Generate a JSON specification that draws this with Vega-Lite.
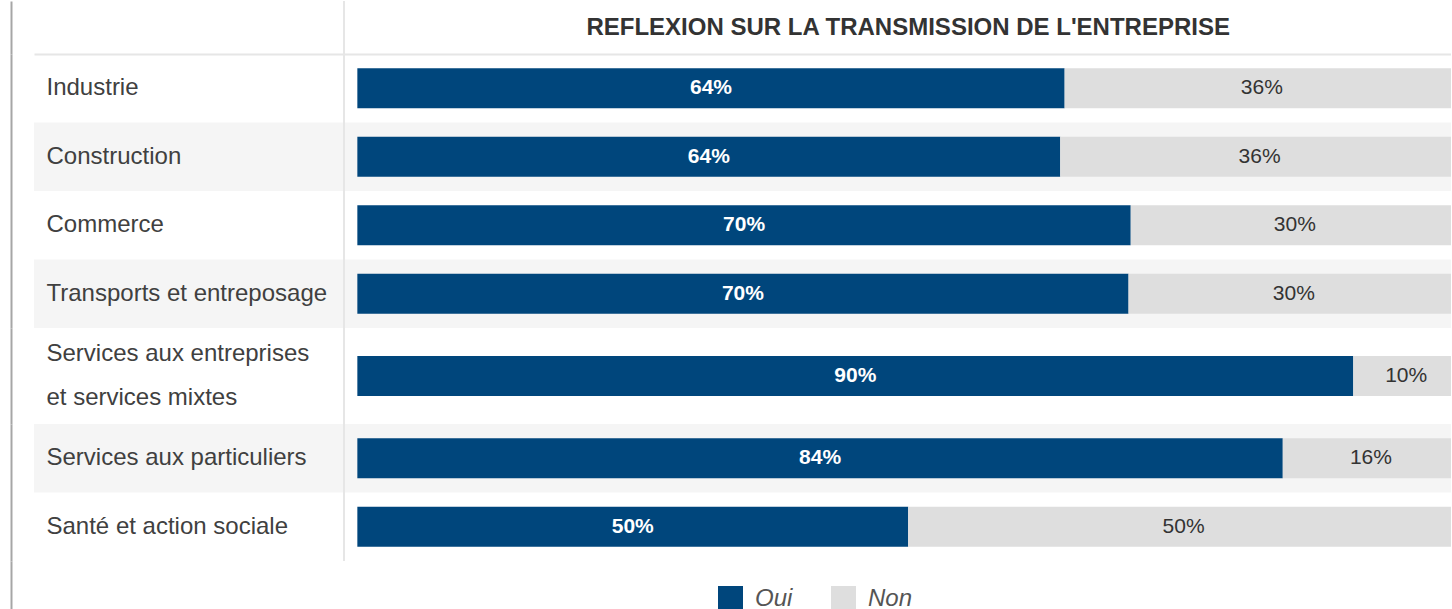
{
  "$schema": "https://vega.github.io/schema/vega-lite/v6.json",
  "background": "white",
  "padding": {"left": 11, "top": 0, "right": 0, "bottom": 0},
  "spacing": 0,
  "bounds": "flush",
  "resolve": {"scale": {"color": "shared"}, "legend": {"color": "shared"}},
  "datasets": {
    "reponses": [
      {"secteur": "Industrie", "reponse": "Oui", "part": 64.2, "etiquette": "64%"},
      {"secteur": "Industrie", "reponse": "Non", "part": 35.8, "etiquette": "36%"},
      {"secteur": "Construction", "reponse": "Oui", "part": 63.8, "etiquette": "64%"},
      {"secteur": "Construction", "reponse": "Non", "part": 36.2, "etiquette": "36%"},
      {"secteur": "Commerce", "reponse": "Oui", "part": 70.2, "etiquette": "70%"},
      {"secteur": "Commerce", "reponse": "Non", "part": 29.8, "etiquette": "30%"},
      {"secteur": "Transports et entreposage", "reponse": "Oui", "part": 70.0, "etiquette": "70%"},
      {"secteur": "Transports et entreposage", "reponse": "Non", "part": 30.0, "etiquette": "30%"},
      {"secteur": "Services aux entreprises et services mixtes", "reponse": "Oui", "part": 90.4, "etiquette": "90%"},
      {"secteur": "Services aux entreprises et services mixtes", "reponse": "Non", "part": 9.6, "etiquette": "10%"},
      {"secteur": "Services aux particuliers", "reponse": "Oui", "part": 84.0, "etiquette": "84%"},
      {"secteur": "Services aux particuliers", "reponse": "Non", "part": 16.0, "etiquette": "16%"},
      {"secteur": "Santé et action sociale", "reponse": "Oui", "part": 50.0, "etiquette": "50%"},
      {"secteur": "Santé et action sociale", "reponse": "Non", "part": 50.0, "etiquette": "50%"}
    ],
    "entete": [{"titre": "REFLEXION SUR LA TRANSMISSION DE L'ENTREPRISE"}],
    "pied": [{"pied": ""}]
  },
  "vconcat": [
    {
      "width": 1417, "height": 53,
      "data": {"name": "entete"},
      "layer": [
        {
          "mark": {"type": "rule", "color": "#e6e6e6", "strokeWidth": 2},
          "encoding": {
            "x": {"datum": -1.21, "type": "quantitative", "scale": {"domain": [-29.35, 99.27], "nice": false, "zero": false},
                  "axis": {"orient": "bottom", "labels": false, "ticks": false, "grid": false, "domain": true, "domainColor": "#e6e6e6", "domainWidth": 2, "title": null}}
          }
        },
        {
          "mark": {"type": "text", "fontSize": 24, "fontWeight": "bold", "color": "#333333", "font": "Liberation Sans, Arial, sans-serif"},
          "encoding": {
            "x": {"datum": 50, "type": "quantitative", "scale": {"domain": [-29.35, 99.27], "nice": false, "zero": false},
                  "axis": {"orient": "bottom", "labels": false, "ticks": false, "grid": false, "domain": true, "domainColor": "#e6e6e6", "domainWidth": 2, "title": null}},
            "y": {"field": "titre", "type": "nominal", "axis": {"labels": false}},
            "text": {"field": "titre"}
          }
        }
      ]
    },
    {
      "width": 1417, "height": 274,
      "data": {"name": "reponses"},
      "layer": [
        {
          "transform": [{"filter": {"field": "secteur", "oneOf": ["Construction", "Transports et entreposage"]}}, {"filter": "datum.reponse == 'Oui'"}],
          "mark": {"type": "bar", "color": "#f5f5f5"},
          "encoding": {
            "y": {"field": "secteur", "type": "nominal", "sort": ["Industrie", "Construction", "Commerce", "Transports et entreposage"], "scale": {"domain": ["Industrie", "Construction", "Commerce", "Transports et entreposage"], "paddingInner": 0, "paddingOuter": 0}, "axis": {"zindex": 1}},
            "x": {"datum": -29.35, "type": "quantitative", "scale": {"domain": [-29.35, 99.27], "nice": false, "zero": false}, "axis": null},
            "x2": {"datum": 99.27}
          }
        },
        {
          "data": {"name": "entete"},
          "mark": {"type": "rule", "color": "#e6e6e6", "strokeWidth": 2},
          "encoding": {"x": {"datum": -1.21, "type": "quantitative", "scale": {"domain": [-29.35, 99.27], "nice": false, "zero": false}, "axis": null}}
        },
        {
          "transform": [{"filter": {"field": "secteur", "oneOf": ["Industrie", "Construction", "Commerce", "Transports et entreposage"]}}],
          "mark": {"type": "bar", "size": 40, "clip": true},
          "encoding": {
            "y": {"field": "secteur", "type": "nominal", "sort": ["Industrie", "Construction", "Commerce", "Transports et entreposage"], "scale": {"domain": ["Industrie", "Construction", "Commerce", "Transports et entreposage"], "paddingInner": 0, "paddingOuter": 0}, "axis": {"zindex": 1}},
            "x": {"field": "part", "type": "quantitative", "stack": "zero", "scale": {"domain": [-29.35, 99.27], "nice": false, "zero": false}, "axis": null},
            "color": {"field": "reponse", "type": "nominal", "scale": {"domain": ["Oui", "Non"], "range": ["#00467c", "#dedede"]},
                      "legend": {"title": null, "orient": "none", "legendX": 684, "legendY": 585, "direction": "horizontal", "symbolType": "square", "symbolSize": 625, "symbolStrokeWidth": 0, "labelFont": "Liberation Sans, Arial, sans-serif", "labelFontSize": 24, "labelFontStyle": "italic", "labelColor": "#555555", "labelOffset": 12, "columnPadding": 38, "padding": 0}},
            "order": {"field": "reponse", "sort": "descending"}
          }
        },
        {
          "transform": [{"filter": {"field": "secteur", "oneOf": ["Industrie", "Construction", "Commerce", "Transports et entreposage"]}}],
          "mark": {"type": "text", "font": "Liberation Sans, Arial, sans-serif", "fontSize": 21, "fontWeight": "bold", "color": "white"},
          "encoding": {
            "y": {"field": "secteur", "type": "nominal", "sort": ["Industrie", "Construction", "Commerce", "Transports et entreposage"], "scale": {"domain": ["Industrie", "Construction", "Commerce", "Transports et entreposage"], "paddingInner": 0, "paddingOuter": 0}, "axis": {"zindex": 1}},
            "x": {"field": "part", "type": "quantitative", "stack": "zero", "bandPosition": 0.5, "scale": {"domain": [-29.35, 99.27], "nice": false, "zero": false}, "axis": null},
            "detail": {"field": "reponse"},
            "order": {"field": "reponse", "sort": "descending"},
            "text": {"field": "etiquette"},
            "opacity": {"condition": {"test": "datum.reponse == 'Oui'", "value": 1}, "value": 0}
          }
        },
        {
          "transform": [{"filter": {"field": "secteur", "oneOf": ["Industrie", "Construction", "Commerce", "Transports et entreposage"]}}],
          "mark": {"type": "text", "font": "Liberation Sans, Arial, sans-serif", "fontSize": 21, "color": "#333333"},
          "encoding": {
            "y": {"field": "secteur", "type": "nominal", "sort": ["Industrie", "Construction", "Commerce", "Transports et entreposage"], "scale": {"domain": ["Industrie", "Construction", "Commerce", "Transports et entreposage"], "paddingInner": 0, "paddingOuter": 0}, "axis": {"zindex": 1}},
            "x": {"field": "part", "type": "quantitative", "stack": "zero", "bandPosition": 0.5, "scale": {"domain": [-29.35, 99.27], "nice": false, "zero": false}, "axis": null},
            "detail": {"field": "reponse"},
            "order": {"field": "reponse", "sort": "descending"},
            "text": {"field": "etiquette"},
            "opacity": {"condition": {"test": "datum.reponse == 'Non'", "value": 1}, "value": 0}
          }
        }
      ]
    },
    {
      "width": 1417, "height": 96,
      "data": {"name": "reponses"},
      "layer": [
        {
          "data": {"name": "entete"},
          "mark": {"type": "rule", "color": "#e6e6e6", "strokeWidth": 2},
          "encoding": {"x": {"datum": -1.21, "type": "quantitative", "scale": {"domain": [-29.35, 99.27], "nice": false, "zero": false}, "axis": null}}
        },
        {
          "transform": [{"filter": {"field": "secteur", "oneOf": ["Services aux entreprises et services mixtes"]}}],
          "mark": {"type": "bar", "size": 40, "clip": true},
          "encoding": {
            "y": {"field": "secteur", "type": "nominal", "scale": {"paddingInner": 0, "paddingOuter": 0},
                  "axis": {"zindex": 1, "labelOffset": -22, "labelExpr": "datum.value == 'Services aux entreprises et services mixtes' ? ['Services aux entreprises', 'et services mixtes'] : datum.value"}},
            "x": {"field": "part", "type": "quantitative", "stack": "zero", "scale": {"domain": [-29.35, 99.27], "nice": false, "zero": false}, "axis": null},
            "color": {"field": "reponse", "type": "nominal", "scale": {"domain": ["Oui", "Non"], "range": ["#00467c", "#dedede"]},
                      "legend": {"title": null, "orient": "none", "legendX": 684, "legendY": 585, "direction": "horizontal", "symbolType": "square", "symbolSize": 625, "symbolStrokeWidth": 0, "labelFont": "Liberation Sans, Arial, sans-serif", "labelFontSize": 24, "labelFontStyle": "italic", "labelColor": "#555555", "labelOffset": 12, "columnPadding": 38, "padding": 0}},
            "order": {"field": "reponse", "sort": "descending"}
          }
        },
        {
          "transform": [{"filter": {"field": "secteur", "oneOf": ["Services aux entreprises et services mixtes"]}}],
          "mark": {"type": "text", "font": "Liberation Sans, Arial, sans-serif", "fontSize": 21, "fontWeight": "bold", "color": "white"},
          "encoding": {
            "y": {"field": "secteur", "type": "nominal", "scale": {"paddingInner": 0, "paddingOuter": 0},
                  "axis": {"zindex": 1, "labelOffset": -22, "labelExpr": "datum.value == 'Services aux entreprises et services mixtes' ? ['Services aux entreprises', 'et services mixtes'] : datum.value"}},
            "x": {"field": "part", "type": "quantitative", "stack": "zero", "bandPosition": 0.5, "scale": {"domain": [-29.35, 99.27], "nice": false, "zero": false}, "axis": null},
            "detail": {"field": "reponse"},
            "order": {"field": "reponse", "sort": "descending"},
            "text": {"field": "etiquette"},
            "opacity": {"condition": {"test": "datum.reponse == 'Oui'", "value": 1}, "value": 0}
          }
        },
        {
          "transform": [{"filter": {"field": "secteur", "oneOf": ["Services aux entreprises et services mixtes"]}}],
          "mark": {"type": "text", "font": "Liberation Sans, Arial, sans-serif", "fontSize": 21, "color": "#333333"},
          "encoding": {
            "y": {"field": "secteur", "type": "nominal", "scale": {"paddingInner": 0, "paddingOuter": 0},
                  "axis": {"zindex": 1, "labelOffset": -22, "labelExpr": "datum.value == 'Services aux entreprises et services mixtes' ? ['Services aux entreprises', 'et services mixtes'] : datum.value"}},
            "x": {"field": "part", "type": "quantitative", "stack": "zero", "bandPosition": 0.5, "scale": {"domain": [-29.35, 99.27], "nice": false, "zero": false}, "axis": null},
            "detail": {"field": "reponse"},
            "order": {"field": "reponse", "sort": "descending"},
            "text": {"field": "etiquette"},
            "opacity": {"condition": {"test": "datum.reponse == 'Non'", "value": 1}, "value": 0}
          }
        }
      ]
    },
    {
      "width": 1417, "height": 137,
      "data": {"name": "reponses"},
      "layer": [
        {
          "transform": [{"filter": {"field": "secteur", "oneOf": ["Services aux particuliers"]}}, {"filter": "datum.reponse == 'Oui'"}],
          "mark": {"type": "bar", "color": "#f5f5f5"},
          "encoding": {
            "y": {"field": "secteur", "type": "nominal", "sort": ["Services aux particuliers", "Santé et action sociale"], "scale": {"domain": ["Services aux particuliers", "Santé et action sociale"], "paddingInner": 0, "paddingOuter": 0}, "axis": {"zindex": 1}},
            "x": {"datum": -29.35, "type": "quantitative", "scale": {"domain": [-29.35, 99.27], "nice": false, "zero": false}, "axis": null},
            "x2": {"datum": 99.27}
          }
        },
        {
          "data": {"name": "entete"},
          "mark": {"type": "rule", "color": "#e6e6e6", "strokeWidth": 2},
          "encoding": {"x": {"datum": -1.21, "type": "quantitative", "scale": {"domain": [-29.35, 99.27], "nice": false, "zero": false}, "axis": null}}
        },
        {
          "transform": [{"filter": {"field": "secteur", "oneOf": ["Services aux particuliers", "Santé et action sociale"]}}],
          "mark": {"type": "bar", "size": 40, "clip": true},
          "encoding": {
            "y": {"field": "secteur", "type": "nominal", "sort": ["Services aux particuliers", "Santé et action sociale"], "scale": {"domain": ["Services aux particuliers", "Santé et action sociale"], "paddingInner": 0, "paddingOuter": 0}, "axis": {"zindex": 1}},
            "x": {"field": "part", "type": "quantitative", "stack": "zero", "scale": {"domain": [-29.35, 99.27], "nice": false, "zero": false}, "axis": null},
            "color": {"field": "reponse", "type": "nominal", "scale": {"domain": ["Oui", "Non"], "range": ["#00467c", "#dedede"]},
                      "legend": {"title": null, "orient": "none", "legendX": 684, "legendY": 585, "direction": "horizontal", "symbolType": "square", "symbolSize": 625, "symbolStrokeWidth": 0, "labelFont": "Liberation Sans, Arial, sans-serif", "labelFontSize": 24, "labelFontStyle": "italic", "labelColor": "#555555", "labelOffset": 12, "columnPadding": 38, "padding": 0}},
            "order": {"field": "reponse", "sort": "descending"}
          }
        },
        {
          "transform": [{"filter": {"field": "secteur", "oneOf": ["Services aux particuliers", "Santé et action sociale"]}}],
          "mark": {"type": "text", "font": "Liberation Sans, Arial, sans-serif", "fontSize": 21, "fontWeight": "bold", "color": "white"},
          "encoding": {
            "y": {"field": "secteur", "type": "nominal", "sort": ["Services aux particuliers", "Santé et action sociale"], "scale": {"domain": ["Services aux particuliers", "Santé et action sociale"], "paddingInner": 0, "paddingOuter": 0}, "axis": {"zindex": 1}},
            "x": {"field": "part", "type": "quantitative", "stack": "zero", "bandPosition": 0.5, "scale": {"domain": [-29.35, 99.27], "nice": false, "zero": false}, "axis": null},
            "detail": {"field": "reponse"},
            "order": {"field": "reponse", "sort": "descending"},
            "text": {"field": "etiquette"},
            "opacity": {"condition": {"test": "datum.reponse == 'Oui'", "value": 1}, "value": 0}
          }
        },
        {
          "transform": [{"filter": {"field": "secteur", "oneOf": ["Services aux particuliers", "Santé et action sociale"]}}],
          "mark": {"type": "text", "font": "Liberation Sans, Arial, sans-serif", "fontSize": 21, "color": "#333333"},
          "encoding": {
            "y": {"field": "secteur", "type": "nominal", "sort": ["Services aux particuliers", "Santé et action sociale"], "scale": {"domain": ["Services aux particuliers", "Santé et action sociale"], "paddingInner": 0, "paddingOuter": 0}, "axis": {"zindex": 1}},
            "x": {"field": "part", "type": "quantitative", "stack": "zero", "bandPosition": 0.5, "scale": {"domain": [-29.35, 99.27], "nice": false, "zero": false}, "axis": null},
            "detail": {"field": "reponse"},
            "order": {"field": "reponse", "sort": "descending"},
            "text": {"field": "etiquette"},
            "opacity": {"condition": {"test": "datum.reponse == 'Non'", "value": 1}, "value": 0}
          }
        }
      ]
    },
    {
      "width": 1417, "height": 49,
      "data": {"name": "pied"},
      "mark": {"type": "text"},
      "encoding": {
        "y": {"field": "pied", "type": "nominal", "axis": {"labels": false}},
        "text": {"field": "pied"}
      }
    }
  ],
  "config": {
    "view": {"stroke": null},
    "font": "Liberation Sans, Arial, sans-serif",
    "axisY": {
      "title": null,
      "ticks": false,
      "grid": false,
      "domain": true,
      "domainColor": "#a6a6a6",
      "domainWidth": 2,
      "offset": 23,
      "labelAlign": "left",
      "labelBaseline": "middle",
      "labelPadding": -35,
      "labelFont": "Liberation Sans, Arial, sans-serif",
      "labelFontSize": 24,
      "labelColor": "#404040",
      "labelLimit": 0,
      "labelLineHeight": 44
    }
  }
}
